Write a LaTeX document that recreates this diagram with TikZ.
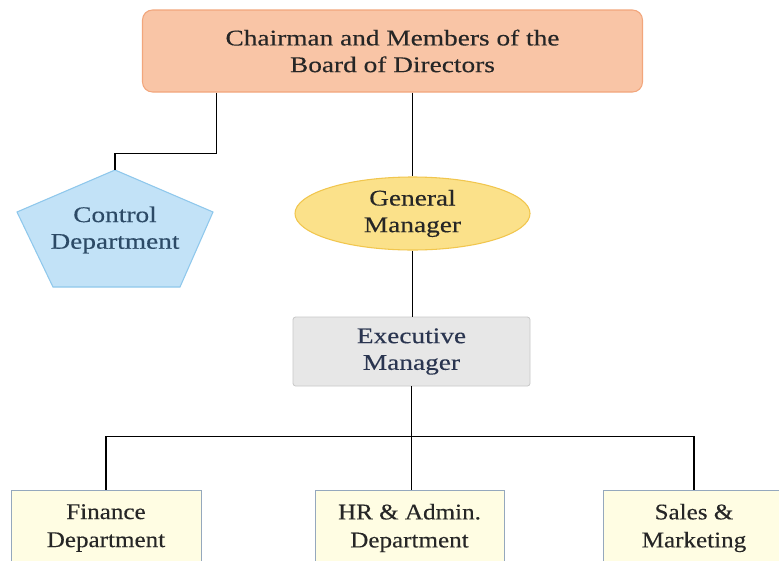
\documentclass[tikz,border=0pt]{standalone}
\usepackage{fontspec}
\setmainfont{Liberation Serif}
\newfontfamily\widefont[FakeStretch=1.22,FakeBold=0.3]{Liberation Serif}
\newfontfamily\bottomfont[FakeStretch=1.12,FakeBold=0.3]{Liberation Serif}
\usetikzlibrary{shapes.geometric,calc}
\definecolor{boardfill}{HTML}{F9C5A6}
\definecolor{boarddraw}{HTML}{F2A67C}
\definecolor{ctrlfill}{HTML}{C2E2F7}
\definecolor{ctrldraw}{HTML}{8FC8EC}
\definecolor{gmfill}{HTML}{FBE18A}
\definecolor{gmdraw}{HTML}{F1C64E}
\definecolor{execfill}{HTML}{E7E7E7}
\definecolor{execdraw}{HTML}{C9C9C9}
\definecolor{deptfill}{HTML}{FFFDE3}
\definecolor{deptdraw}{HTML}{95A8BD}
\definecolor{txtdark}{HTML}{262626}
\definecolor{txtblue}{HTML}{2C4A66}
\definecolor{txtnavy}{HTML}{2A3550}
\tikzset{
  toptext/.style={font=\widefont\fontsize{16.8pt}{20pt}\selectfont, align=center, inner sep=0pt},
  boardbox/.style={toptext, rectangle, rounded corners=7.5pt, fill=boardfill, draw=boarddraw, line width=0.8pt,
    minimum width=375pt, minimum height=61.5pt, text=txtdark},
  gmshape/.style={toptext, ellipse, fill=gmfill, draw=gmdraw, line width=0.8pt,
    minimum width=176.25pt, minimum height=54.75pt, text=txtdark},
  execbox/.style={toptext, rectangle, rounded corners=2pt, fill=execfill, draw=execdraw, line width=0.6pt,
    minimum width=177.75pt, minimum height=51.75pt, text=txtnavy},
  deptbox/.style={font=\bottomfont\fontsize{16.8pt}{21pt}\selectfont, align=center, inner sep=0pt,
    rectangle, fill=deptfill, draw=deptdraw, line width=0.6pt, minimum height=57pt, text=txtdark},
  link/.style={draw=black, line width=0.9pt}
}
\begin{document}
\begin{tikzpicture}[x=0.75pt,y=-0.75pt]
\useasboundingbox (0,0) rectangle (779,561);
\fill[white] (0,0) rectangle (779,561);

% board
\node[boardbox] (board) at (392.5,51) {Chairman and Members of the\\Board of Directors};

% control department pentagon
\coordinate (ctrltop) at (115,170);
\draw[fill=ctrlfill, draw=ctrldraw, line width=0.8pt, line join=miter]
  (ctrltop) -- (213,212) -- (180,287) -- (53,287) -- (17,212) -- cycle;
\node[toptext, text=txtblue] (ctrl) at (115,230) {Control\\Department};

% general manager
\node[gmshape] (gm) at (412.5,213.5) {General\\Manager};

% executive manager
\node[execbox] (exec) at (411.5,351.5) {Executive\\Manager};

% departments
\node[deptbox, minimum width=142.5pt] (fin) at (106,528) {Finance\\Department};
\node[deptbox, minimum width=141.75pt] (hr) at (409.5,528) {HR \& Admin.\\Department};
\node[deptbox, minimum width=136.5pt] (sales) at (694,528) {Sales \&\\Marketing};

% connectors
\draw[link] ($(board.south)+(-176,0)$) -- ++(0,61) -| (ctrltop);
\draw[link] (board.south -| gm.north) -- (gm.north);
\draw[link] (gm.south) -- (gm.south |- exec.north);
\draw[link] (exec.south) -- (exec.south |- hr.north);
\draw[link] (fin.north) -- ++(0,-53) -| (sales.north);
\end{tikzpicture}
\end{document}
